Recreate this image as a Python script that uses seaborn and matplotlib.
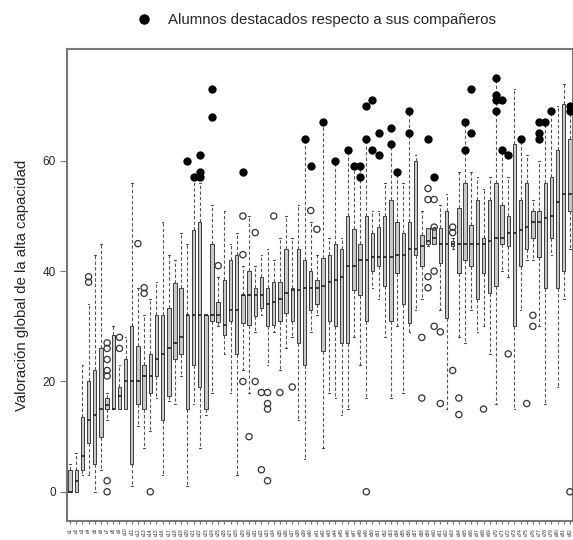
import numpy as np
import pandas as pd
import matplotlib
matplotlib.use("Agg")
import matplotlib.pyplot as plt
from matplotlib.lines import Line2D
import seaborn as sns

sns.set_style("white")
plt.rcParams["font.family"] = ["Liberation Sans", "DejaVu Sans"]

# ---- data ----
labels = [f"u{i}" for i in range(1, 83)]

lo = [0, 0, 3, 3, 0, 4, 13, 15, 15, 15, 1, 12, 8, 11, 17, 3, 16.5, 16, 21, 1,
      16, 8, 14, 18, 30, 25, 18, 3, 22, 18, 29, 32, 23, 29, 22, 26, 28, 13, 6, 29,
      32, 8, 18, 17, 14, 15, 28, 23, 17, 37, 35, 28, 17, 30, 18, 29, 33, 35, 44.5, 45,
      33, 15, 44, 28, 27, 33, 29, 30, 25, 16, 40, 39, 15, 33, 42, 42, 30, 16, 43, 19,
      35, 44]
q1 = [0, 0, 4, 8.8, 5, 10, 15, 15, 15, 15, 5, 16, 15, 18, 21, 13, 17.3, 24, 25, 15,
      23, 19, 15, 31, 30.7, 28.5, 31, 25, 30.6, 30.3, 31.8, 33.3, 30, 30.3, 31, 32.4, 31, 27, 23, 33,
      34, 25.5, 31, 30, 27, 27, 36.6, 35.7, 31, 40, 41, 37.3, 31, 39.7, 34, 30.6, 43, 41, 45, 45,
      41.5, 31.5, 44.5, 39.7, 42, 41, 35, 39.7, 36, 37.3, 45, 44.5, 30, 41, 44, 46, 42.5, 37, 46, 37,
      40, 51]
med = [0, 2, 6.4, 13, 14, 15, 15.8, 15, 17.4, 20, 20, 20, 21, 21, 24, 25, 26, 27, 28, 32,
       32, 32, 32, 32, 32, 30.3, 33, 33, 35.7, 35.7, 35.7, 35.7, 34, 34.5, 35, 36, 36.6, 36.6, 37, 37,
       37, 37.3, 38, 38.4, 39, 41, 41, 42, 42, 42.5, 42.5, 42.5, 42.5, 43, 43, 44, 44, 44.5, 45.4, 46,
       45, 45, 45, 45, 45, 45, 45, 45, 45.4, 46, 46, 47, 47, 47.5, 48, 49, 49, 49.6, 50, 52.6,
       54, 54]
q3 = [4, 4, 13.5, 20, 22, 26, 17, 28.5, 19, 24, 30, 26.5, 23, 25, 32, 32, 33.3, 37.8, 37, 32,
      47.5, 49, 32, 45, 34.5, 38.4, 42, 43, 35.7, 40, 37, 39, 37, 38, 38, 44, 37, 44, 42, 40,
      38.4, 42.4, 43, 45, 44, 50, 47.6, 45, 50, 47, 48, 50, 53, 49, 47, 49, 60, 46.6, 47.8, 47.8,
      47.8, 51, 45.5, 51.4, 56, 48.4, 53, 46, 53, 56, 52, 50, 63, 53, 56, 51, 51, 56, 57, 62,
      70.4, 64]
hi = [5, 7, 23, 34, 43, 45, 18, 30, 23, 28, 56, 37, 32, 35, 38, 49, 43, 42, 47, 45,
      57, 56, 32, 52, 39, 51, 45, 47, 41, 50, 41, 43, 44, 42, 46, 50, 46, 52, 64, 49,
      43, 67, 46, 60, 46, 62, 59, 59, 64, 51, 51, 56, 63, 58, 56, 69, 61, 51, 47.8, 48,
      52, 54, 46, 58, 67, 58, 57, 55, 57, 75, 62, 57, 73, 64, 61, 53, 60, 67, 69, 70,
      74, 70]

# ordinary outliers (open circles): group label, value
out_group = (["u4"] * 2 + ["u7"] * 7 + ["u9"] * 2 + ["u12", "u13", "u13", "u14", "u25"]
             + ["u29"] * 3 + ["u30", "u31", "u31", "u32", "u32"] + ["u33"] * 4
             + ["u34", "u35", "u37", "u40", "u41", "u49"] + ["u58"] * 2 + ["u59"] * 4
             + ["u60"] * 4 + ["u61"] * 2 + ["u63"] * 3 + ["u64"] * 2
             + ["u68", "u72", "u75", "u76", "u76", "u82"])
out_value = ([39, 38] + [27, 26, 24, 22, 21, 2, 0] + [28, 26] + [45, 37, 36, 0, 41]
             + [50, 43, 20] + [10, 47, 20, 18, 4] + [18, 16, 15, 2]
             + [50, 18, 19, 51, 47.6, 0] + [28, 17] + [55, 53, 39, 37]
             + [53, 48, 40, 30] + [29, 16] + [48, 47, 22] + [17, 14]
             + [15, 25, 16, 32, 30, 0])

# highlighted students (filled dots): group label, value
dest_group = (["u20", "u21"] + ["u22"] * 3 + ["u24"] * 2 + ["u29", "u39", "u40", "u42", "u44",
              "u46", "u47"] + ["u48"] * 2 + ["u49"] * 2 + ["u50"] * 2 + ["u51"] * 2
              + ["u53"] * 2 + ["u54"] + ["u56"] * 2 + ["u59", "u60"] + ["u65"] * 2
              + ["u66"] * 2 + ["u70"] * 4 + ["u71"] * 2 + ["u72", "u74"] + ["u77"] * 3
              + ["u78", "u79"] + ["u82"] * 2)
dest_value = ([60, 57] + [61, 58, 57] + [73, 68] + [58, 64, 59, 67, 60,
               62, 59] + [59, 57] + [70, 64] + [71, 62] + [65, 61]
              + [66, 63] + [58] + [69, 65] + [64, 57] + [67, 62]
              + [73, 65] + [75, 72, 71, 69] + [71, 62] + [61, 64] + [67, 65, 64]
              + [67, 69] + [70, 69])

legend_text = "Alumnos destacados respecto a sus compañeros"
ylabel_text = "Valoración global de la alta capacidad"

# ---- build tables ----
rows = []
for lab, a, b, c, d, e in zip(labels, lo, q1, med, q3, hi):
    for v in (a, b, c, d, e):
        rows.append((lab, v))
box_df = pd.DataFrame(rows, columns=["alumno", "valor"])
out_df = pd.DataFrame({"alumno": out_group, "valor": out_value})
dest_df = pd.DataFrame({"alumno": dest_group, "valor": dest_value})

# ---- figure ----
fig = plt.figure(figsize=(5.73, 5.40), dpi=100)
ax = fig.add_axes([67 / 573, 1 - 521 / 540, (573 - 67) / 573, (521 - 49) / 540])

sns.boxplot(data=box_df, x="alumno", y="valor", order=labels, whis=(0, 100),
            showfliers=False, width=0.55, color="#c8c8c8", linecolor="#222222",
            linewidth=0.6, saturation=1,
            whiskerprops=dict(linestyle=(0, (3, 2)), linewidth=0.8, color="#555555"),
            capprops=dict(linewidth=0.8, color="#444444"),
            medianprops=dict(linewidth=1.2, color="#222222"),
            ax=ax)

n0 = len(ax.collections)
sns.stripplot(data=out_df, x="alumno", y="valor", order=labels, jitter=False,
              color="#333333", edgecolor="#333333", linewidth=0.9, size=4.5, ax=ax,
              zorder=4)
for coll in ax.collections[n0:]:
    coll.set_facecolor("none")
    coll.set_edgecolor("#333333")

sns.stripplot(data=dest_df, x="alumno", y="valor", order=labels, jitter=False,
              color="black", linewidth=0, size=6, ax=ax, zorder=5)

ax.set_xlim(-0.5, len(labels) - 0.5)
ax.set_ylim(-5.3, 80.3)
ax.set_yticks([0, 20, 40, 60])
ax.tick_params(axis="y", labelsize=8.5, length=5, direction="out", color="#777777",
               left=True, pad=3)
ax.set_xticks(range(len(labels)))
ax.set_xticklabels(labels, rotation=90, fontsize=3.3)
ax.tick_params(axis="x", length=2, direction="out", color="#777777", bottom=True, pad=3)
ax.set_xlabel("")
ax.set_ylabel(ylabel_text, fontsize=10.8, labelpad=10)
for sp in ax.spines.values():
    sp.set_color("#777777")
    sp.set_linewidth(1.5)

handle = Line2D([], [], marker="o", color="black", linestyle="", markersize=6.5)
ax.legend([handle], [legend_text], loc="center", bbox_to_anchor=(0.492, 1 + 29 / 472),
          frameon=False, fontsize=10.8, handlelength=1.0, handletextpad=1.1,
          borderaxespad=0)

fig.savefig("out.png", dpi=100)
